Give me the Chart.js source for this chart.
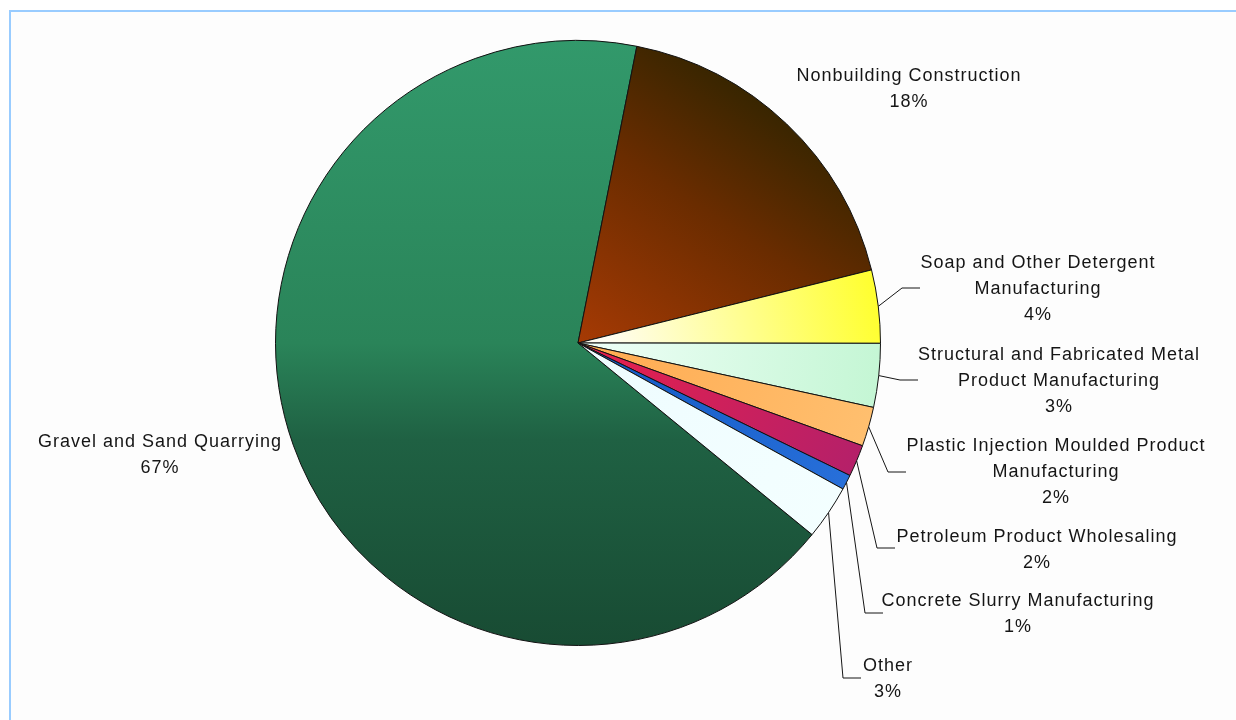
<!DOCTYPE html>
<html>
<head>
<meta charset="utf-8">
<script src="https://cdn.jsdelivr.net/npm/chart.js@4.4.1/dist/chart.umd.min.js"></script>
<style>
  html, body { margin: 0; padding: 0; background: #fff; overflow: hidden; }
  #frame { position: absolute; left: 9px; top: 10px; width: 1300px; height: 800px;
           border: 2px solid #99ccff; background: #fdfdfd; }
  #wrap { position: absolute; left: 0; top: 0; width: 1236px; height: 720px; }
</style>
</head>
<body>
<div id="frame"></div>
<div id="wrap"><canvas id="pieChart" width="1236" height="720"></canvas></div>
<script>
// data (percent share), clockwise from the big slice
const categories = [
    'Gravel and Sand Quarrying',
    'Nonbuilding Construction',
    'Soap and Other Detergent Manufacturing',
    'Structural and Fabricated Metal Product Manufacturing',
    'Plastic Injection Moulded Product Manufacturing',
    'Petroleum Product Wholesaling',
    'Concrete Slurry Manufacturing',
    'Other'
];
const shares = [67.2, 18.0, 3.9, 3.4, 2.1, 1.7, 0.8, 2.9];

// slice fills: gradient direction in chart-area fractions + colour stops
const fills = [
    { from: [0.5, 0], to: [0.5, 1], stops: [[0, '#32996b'], [0.5, '#2a8459'], [0.66, '#1f6143'], [1, '#184b33']] },
    { from: [0.8, 0.05], to: [0.5, 0.5], stops: [[0, '#2e2400'], [0.45, '#6a2c00'], [1, '#a63a04']] },
    { from: [1, 0.4], to: [0.55, 0.5], stops: [[0, '#ffff2a'], [1, '#fffdf2']] },
    { from: [1, 0.55], to: [0.5, 0.5], stops: [[0, '#c4f6d4'], [1, '#f0fff8']] },
    { from: [1, 0.65], to: [0.5, 0.5], stops: [[0, '#ffc070'], [1, '#ffaa50']] },
    { from: [1, 0.72], to: [0.5, 0.5], stops: [[0, '#b0206c'], [1, '#e8204c']] },
    { from: [1, 0.75], to: [0.5, 0.5], stops: [[0, '#2a72dc'], [1, '#1258c4']] },
    { from: [1, 0.8], to: [0.5, 0.5], stops: [[0, '#f4ffff'], [1, '#eefcff']] }
];

// label layout, offsets from pie centre (text x centre, first baseline, leader elbow)
const labelLayout = [
    { tx: -418, ty: 104 },
    { tx: 331, ty: -262 },
    { tx: 460, ty: -75, ex: 324, ey: -55 },
    { tx: 481, ty: 17, ex: 322, ey: 37 },
    { tx: 478, ty: 108, ex: 310, ey: 129 },
    { tx: 459, ty: 199, ex: 299, ey: 205 },
    { tx: 440, ty: 263, ex: 287, ey: 270 },
    { tx: 310, ty: 328, ex: 265, ey: 335 }
];

const FONT = '18px "Liberation Sans", Arial, sans-serif';
const LINE_H = 26;

function sliceFill(context) {
    const chart = context.chart;
    const area = chart.chartArea;
    const f = fills[context.dataIndex];
    if (!area || !f) return '#ccc';
    const w = area.right - area.left, h = area.bottom - area.top;
    const g = chart.ctx.createLinearGradient(
        area.left + f.from[0] * w, area.top + f.from[1] * h,
        area.left + f.to[0] * w, area.top + f.to[1] * h);
    f.stops.forEach(s => g.addColorStop(s[0], s[1]));
    return g;
}

function wrapText(ctx, text, maxW) {
    const words = text.split(' ');
    let lines = [], cur = '';
    words.forEach(w => {
        const test = cur ? cur + ' ' + w : w;
        if (cur && ctx.measureText(test).width > maxW) {
            lines.push(cur);
            cur = w;
        } else {
            cur = test;
        }
    });
    if (cur) lines.push(cur);
    return lines;
}

const pieLabels = {
    id: 'pieLabels',
    afterDatasetsDraw(chart) {
        const ctx = chart.ctx;
        const meta = chart.getDatasetMeta(0);
        const total = shares.reduce((a, b) => a + b, 0);
        ctx.save();
        ctx.font = FONT;
        if ('letterSpacing' in ctx) ctx.letterSpacing = '1px';
        ctx.fillStyle = '#151515';
        ctx.strokeStyle = '#151515';
        ctx.lineWidth = 1;
        ctx.textAlign = 'center';
        meta.data.forEach((arc, i) => {
            const p = arc.getProps(['x', 'y', 'startAngle', 'endAngle', 'outerRadius'], true);
            const lay = labelLayout[i];
            const mid = (p.startAngle + p.endAngle) / 2;
            if (lay.ex !== undefined) {
                ctx.beginPath();
                ctx.moveTo(p.x + Math.cos(mid) * p.outerRadius, p.y + Math.sin(mid) * p.outerRadius);
                ctx.lineTo(p.x + lay.ex, p.y + lay.ey);
                ctx.lineTo(p.x + lay.ex + 18, p.y + lay.ey);
                ctx.stroke();
            }
            const lines = wrapText(ctx, categories[i], 310);
            lines.push(Math.round(shares[i] / total * 100) + '%');
            lines.forEach((ln, k) => {
                ctx.fillText(ln, p.x + lay.tx, p.y + lay.ty + k * LINE_H);
            });
        });
        ctx.restore();
    }
};

const chart = new Chart(document.getElementById('pieChart'), {
    type: 'pie',
    data: {
        labels: categories,
        datasets: [{
            data: shares,
            backgroundColor: sliceFill,
            borderColor: '#111',
            borderWidth: 1
        }]
    },
    options: {
        responsive: false,
        animation: false,
        devicePixelRatio: 1,
        rotation: 129.3,
        layout: { padding: { left: 275, right: 355, top: 40, bottom: 74 } },
        plugins: {
            legend: { display: false },
            tooltip: { enabled: false }
        }
    },
    plugins: [pieLabels]
});
</script>
</body>
</html>
